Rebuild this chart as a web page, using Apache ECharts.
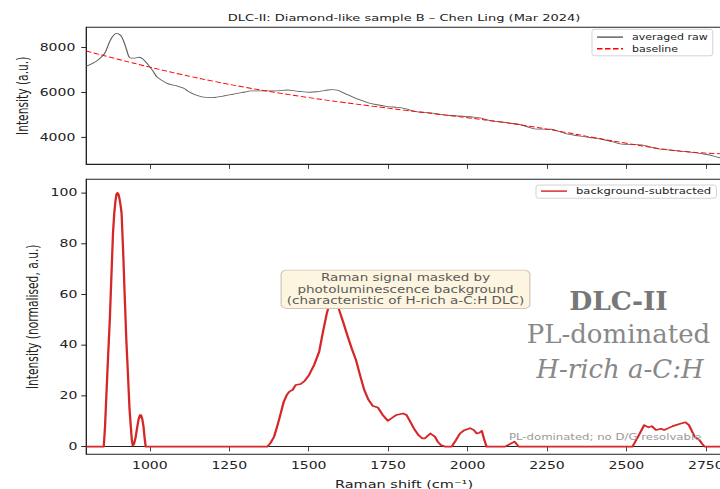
<!DOCTYPE html>
<html>
<head>
<meta charset="utf-8">
<script src="https://cdn.jsdelivr.net/npm/echarts@6/dist/echarts.min.js"></script>
<style>
  html, body { margin: 0; padding: 0; background: #fff; overflow: hidden; width: 720px; height: 489px; }
  /* the figure is laid out on a taller canvas and squeezed vertically */
  #chart { width: 720px; height: 685px; transform: scale(1, 0.713869); transform-origin: 0 0; }
</style>
</head>
<body>
<div id="chart"></div>
<script>
// ---- averaged raw spectrum (a.u.) ----
const rawShift = [800,820,837,858,870,879,890,897,905,911,920,927,937,953,967,979,995,1010,1022,1040,
  1054,1070,1085,1106,1120,1138,1155,1169,1196,1215,1232,1255,1275,1300,1317,1359,1401,1433,1450,1473,
  1506,1525,1543,1560,1575,1590,1601,1620,1643,1665,1685,1715,1748,1780,1806,1825,1843,1865,1885,1910,
  1938,1970,2001,2020,2043,2060,2075,2106,2136,2160,2185,2211,2240,2264,2290,2316,2350,2385,2422,2455,
  2485,2520,2548,2575,2601,2640,2685,2720,2748,2775,2800];
const rawIntensity = [7170,7300,7450,7750,8150,8420,8610,8640,8580,8490,8200,7900,7550,7530,7570,7480,7230,6950,6700,6520,
  6410,6340,6290,6190,6060,5920,5840,5790,5770,5800,5840,5900,5960,6020,6070,6070,6070,6110,6080,6040,
  6010,6030,6070,6110,6125,6100,6040,5910,5770,5650,5545,5450,5370,5330,5265,5190,5130,5110,5085,5030,
  4980,4950,4920,4900,4850,4790,4730,4680,4625,4580,4480,4370,4360,4355,4250,4135,4060,3990,3910,3800,
  3690,3670,3660,3570,3480,3420,3360,3300,3240,3160,3060];

// ---- fitted baseline (a.u.) ----
const baselineShift = [800,900,1000,1100,1200,1300,1400,1500,1600,1700,1800,1900,2000,2100,2200,2300,2400,2500,2600,2700,2800];
const baselineIntensity = [7850,7480,7130,6800,6500,6230,5990,5770,5570,5390,5210,5040,4870,4690,4480,4240,3980,3730,3500,3340,3260];

// ---- background-subtracted, normalised spectrum ----
const subShift = [800,855,859,863,868,874,879,884,888,892,895,898,901,904,908,911,916,921,926,932,
  936,940,943,946,950,955,960,965,969,972,976,980,984,987,1370,1380,1391,1402,1412,1421,
  1431,1440,1449,1459,1475,1488,1501,1517,1533,1544,1557,1565,1573,1580,1587,1596,1610,1623,1636,1649,
  1662,1675,1688,1702,1718,1733,1749,1762,1776,1797,1808,1821,1834,1846,1857,1866,1883,1897,1906,1916,
  1930,1950,1963,1976,1990,2008,2020,2029,2037,2045,2052,2060,2118,2136,2148,2161,2519,2537,2556,2570,
  2580,2593,2609,2619,2632,2646,2667,2686,2697,2706,2715,2730,2738,2746,2800];
const subIntensity = [0,0,8,19.7,34,50,67,84,92,97,99.5,100,99.5,98,95,92,77,59,42,26,
  15,8,3,0.5,1,3.5,7.5,11,12.5,12.5,11,8,3,0,0,1.5,3.9,8.5,13.1,17.5,
  20.4,21.8,22.3,24.3,24.7,26,28.2,32.2,37.4,44.6,52.5,56,58,58.5,57,53.8,48.5,43.3,38.5,34.1,
  28,22.3,18.5,16,15.4,12.5,10.2,11.3,12.5,13.1,12.5,9.5,6.6,4.5,3.3,3.3,5.2,4,2,0.7,
  0,0,2.5,5.2,6.5,7.3,6.5,5.2,5.5,6.2,3,0,0,1.2,2,0,0,4,8.5,7.6,
  8.1,6.6,7.1,6.6,7.3,8.1,8.9,9.6,8.5,6.2,3.9,2.6,1.2,0,0];

// ---- tick labels ----
const shiftTicks = [1000,1250,1500,1750,2000,2250,2500,2750];
const rawTicks = [4000,6000,8000];
const normTicks = [0,20,40,60,80,100];

// ---- texts ----
const titleText = 'DLC-II: Diamond-like sample B \u2013 Chen Ling (Mar 2024)';
const noteLines = ['Raman signal masked by', 'photoluminescence background', '(characteristic of H-rich a-C:H DLC)'];
const badgeLines = ['DLC-II', 'PL-dominated', 'H-rich a-C:H'];
const footNote = 'PL-dominated; no D/G resolvable';

const SANS = 'DejaVu Sans';
const SERIF = 'DejaVu Serif';
const INK = '#222';
const UPRIGHT = 685 / 489;   // undoes the vertical squeeze for the serif badge

const gridTop = { left: 86.3, top: 38.2, width: 635.4, height: 192 };
const gridBot = { left: 86.3, top: 251.2, width: 635.4, height: 385.2 };

function pairs(xs, ys) { return xs.map((x, i) => [x, ys[i]]); }
const plain = v => String(v);

function xAxisFor(gridIndex, showLabels) {
  return {
    type: 'value', gridIndex: gridIndex, min: 800, max: 2800,
    axisLine: { show: true, lineStyle: { color: INK, width: 1.4 } },
    axisTick: { show: true, inside: false, length: 6.5, customValues: shiftTicks, lineStyle: { color: INK, width: 1 } },
    axisLabel: { show: showLabels, customValues: shiftTicks, formatter: plain, margin: 9.5, fontFamily: SANS, fontSize: 14, color: INK },
    splitLine: { show: false }
  };
}

function yAxisFor(gridIndex, min, max, ticks, name, gap, margin) {
  return {
    type: 'value', gridIndex: gridIndex, min: min, max: max,
    name: name, nameLocation: 'middle', nameGap: gap, nameMoveOverlap: false,
    nameTextStyle: { fontFamily: SANS, fontSize: 15, color: INK },
    axisLine: { show: true, lineStyle: { color: INK, width: 1 } },
    axisTick: { show: true, inside: false, length: 5, customValues: ticks, lineStyle: { color: INK, width: 1.4 } },
    axisLabel: { customValues: ticks, formatter: plain, margin: margin, fontFamily: SANS, fontSize: 14, color: INK },
    splitLine: { show: false }
  };
}

const gridStyle = {
  show: true, borderColor: INK, borderWidth: 1.3, backgroundColor: 'transparent',
  containLabel: false, outerBoundsMode: 'none'
};
const legendBox = { backgroundColor: 'rgba(255,255,255,0.8)', borderColor: '#cccccc', borderWidth: 1, borderRadius: 3 };

const badgeX = gridBot.left + 0.8375 * gridBot.width;

const option = {
  animation: false,
  backgroundColor: '#fff',
  grid: [Object.assign({}, gridStyle, gridTop), Object.assign({}, gridStyle, gridBot)],
  xAxis: [
    xAxisFor(0, false),
    Object.assign(xAxisFor(1, true), {
      name: 'Raman shift (cm\u207B\u00B9)', nameLocation: 'middle', nameGap: 34, nameMoveOverlap: false,
      nameTextStyle: { fontFamily: SANS, fontSize: 14.5, color: INK }
    })
  ],
  yAxis: [
    yAxisFor(0, 2790, 8910, rawTicks, 'Intensity (a.u.)', 55.5, 11),
    yAxisFor(1, -3, 105.3, normTicks, 'Intensity (normalised, a.u.)', 46.3, 9)
  ],
  legend: [
    Object.assign({
      data: ['averaged raw', 'baseline'], orient: 'vertical',
      left: 592, top: 41, padding: [5.5, 5, 4.5, 4], itemGap: 5.2,
      itemWidth: 26, itemHeight: 12,
      itemStyle: { opacity: 0 },
      textStyle: { fontFamily: SANS, fontSize: 11, color: INK, padding: [0, 0, 0, 4] }
    }, legendBox),
    Object.assign({
      data: ['background-subtracted'], orient: 'vertical',
      left: 536, top: 259.2, padding: [2.5, 5, 4, 4],
      itemWidth: 26, itemHeight: 12,
      itemStyle: { opacity: 0 },
      textStyle: { fontFamily: SANS, fontSize: 11.6, color: INK, padding: [0, 0, 0, 4] }
    }, legendBox)
  ],
  series: [
    {
      type: 'line', name: 'averaged raw', xAxisIndex: 0, yAxisIndex: 0,
      data: pairs(rawShift, rawIntensity), symbol: 'none', smooth: 0.3,
      lineStyle: { color: '#5e5e5e', width: 1.2 }, itemStyle: { color: '#5e5e5e' }
    },
    {
      type: 'line', name: 'baseline', xAxisIndex: 0, yAxisIndex: 0,
      data: pairs(baselineShift, baselineIntensity), symbol: 'none', smooth: 0.4,
      lineStyle: { color: '#ff0000', width: 1.3, type: [5.5, 2.5] }, itemStyle: { color: '#ff0000' }
    },
    {
      type: 'line', name: 'background-subtracted', xAxisIndex: 1, yAxisIndex: 1,
      data: pairs(subShift, subIntensity), symbol: 'none', smooth: false,
      lineStyle: { color: '#d62728', width: 2.3, join: 'round' }, itemStyle: { color: '#d62728' }
    }
  ],
  graphic: [
    {
      type: 'text', x: gridTop.left + gridTop.width / 2, y: 24.8,
      style: { text: titleText, fontFamily: SANS, fontSize: 13, fill: INK, textAlign: 'center', textVerticalAlign: 'middle' }
    },
    {
      type: 'text', z: 100,
      x: gridBot.left + 0.5 * gridBot.width + 1.5, y: gridBot.top + 0.4 * gridBot.height,
      style: {
        text: noteLines.join('\n'), fontFamily: SANS, fontSize: 13.5, lineHeight: 15.8, fill: '#5a5a5a',
        textAlign: 'center', textVerticalAlign: 'middle',
        backgroundColor: '#fdf5e0', borderColor: '#cdc6b8', borderWidth: 1.2, borderRadius: 5, padding: [2.5, 5, 2.5, 5]
      }
    },
    {
      type: 'text', z: 100, x: badgeX, y: gridBot.top + 0.439 * gridBot.height, scaleY: UPRIGHT,
      style: { text: badgeLines[0], fontFamily: SERIF, fontWeight: 'bold', fontSize: 26.5, fill: '#777', textAlign: 'center', textVerticalAlign: 'middle' }
    },
    {
      type: 'text', z: 100, x: badgeX, y: gridBot.top + 0.563 * gridBot.height, scaleY: UPRIGHT,
      style: { text: badgeLines[1], fontFamily: SERIF, fontSize: 26, fill: '#888', textAlign: 'center', textVerticalAlign: 'middle' }
    },
    {
      type: 'text', z: 100, x: badgeX + 1.5, y: gridBot.top + 0.69 * gridBot.height, scaleY: UPRIGHT,
      style: { text: badgeLines[2], fontFamily: SERIF, fontStyle: 'italic', fontSize: 26, fill: '#888', textAlign: 'center', textVerticalAlign: 'middle' }
    },
    {
      type: 'text', z: 100, x: gridBot.left + 0.968 * gridBot.width, y: 612.2,
      style: { text: footNote, fontFamily: SANS, fontSize: 11.7, fill: '#999', textAlign: 'right', textVerticalAlign: 'middle' }
    }
  ]
};

const chart = echarts.init(document.getElementById('chart'), null, { renderer: 'svg', width: 720, height: 685 });
chart.setOption(option);
</script>
</body>
</html>
